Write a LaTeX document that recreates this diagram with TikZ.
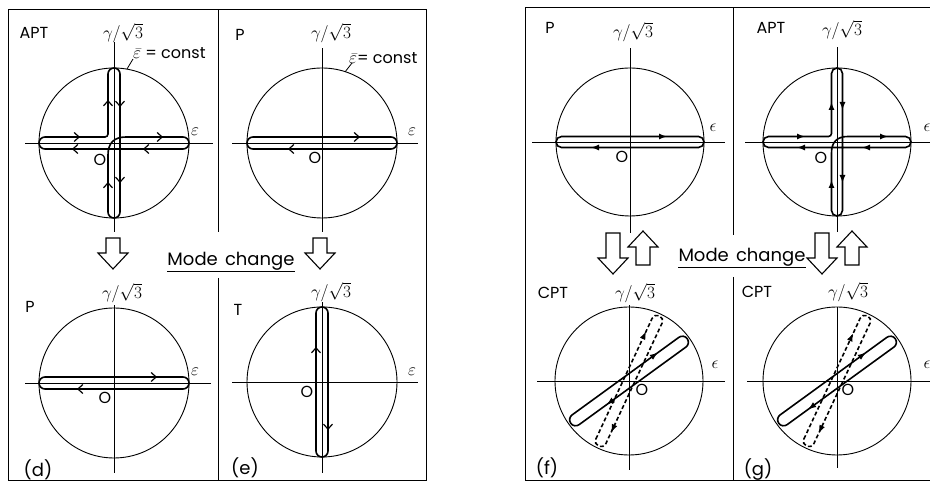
\documentclass[tikz,border=0pt]{standalone}
\usepackage{fontspec}
\setmainfont{Poppins}
\usetikzlibrary{arrows.meta}

\tikzset{
  frame/.style={line width=1pt},
  axis/.style={line width=0.8pt},
  orbit/.style={line width=0.9pt},
  band/.style={line width=1.6pt},
  dashband/.style={band, dash pattern=on 4pt off 2.5pt},
  lbl/.style={font=\fontsize{16}{18}\selectfont, inner sep=0pt},
  tag/.style={font=\fontsize{18}{20}\selectfont, inner sep=0pt},
  modetxt/.style={font=\fontsize{18}{20}\selectfont, inner sep=0pt},
  barb/.style={line width=1.2pt, -{Straight Barb[length=5pt,width=9pt]}},
  tri/.style={line width=1.2pt, -{Latex[length=8pt,width=6pt]}},
  fatarrow/.style={line width=1.1pt, line join=miter},
}

% closed band along the x axis: half length, half width
\newcommand{\hloop}[3][band]{%
  \draw[#1] (-#2+#3,#3) -- (#2-#3,#3) arc[start angle=90,end angle=-90,radius=#3]
    -- (-#2+#3,-#3) arc[start angle=270,end angle=90,radius=#3] -- cycle;}
% cross shaped band of the APT mode: radius, half width
\newcommand{\aptloop}[2]{%
  \draw[band] (-#1+#2,#2) -- (-#2-3,#2) arc[start angle=-90,end angle=0,radius=3]
    -- (-#2,#1-#2) arc[start angle=180,end angle=0,radius=#2]
    -- (#2,-#1+#2) arc[start angle=0,end angle=-180,radius=#2]
    -- (-#2,-2*#2) .. controls (-#2,0) and (0,#2) .. (2*#2,#2)
    -- (#1-#2,#2) arc[start angle=90,end angle=-90,radius=#2]
    -- (-#1+#2,-#2) arc[start angle=270,end angle=90,radius=#2] -- cycle;}
\newcommand{\tipat}[3][barb]{\draw[#1,shift={(#2)},rotate=#3] (-3,0) -- (0,0);}
% hollow arrow: tip, rotation, length
\newcommand{\modearrow}[3]{\draw[fatarrow,shift={(#1)},rotate=#2]
  (0,0) -- (15,16) -- (7,16) -- (7,#3) -- (-7,#3) -- (-7,16) -- (-15,16) -- cycle;}

\begin{document}
\begin{tikzpicture}[x=1pt,y=1pt]
\useasboundingbox (0,0) rectangle (930,484);
% frames
\draw[frame] (8,3) rectangle (426,474);
\draw[frame] (218,474) -- (218,252) (218,206) -- (218,3);
\draw[frame] (945,3) -- (525,3) -- (525,476) -- (945,476);
\draw[frame] (733,476) -- (733,249) (733,207) -- (733,3);

% (d) upper: APT
\begin{scope}[shift={(114,341)}]
  \draw[orbit] (0,0) circle[radius=75];
  \draw[axis] (-89,0) -- (99,0) (0,-89) -- (0,101);
  \aptloop{75}{6}
  \tipat{-34,6}{0} \tipat{-42,-6}{180} \tipat{-6,43}{90} \tipat{6,36}{-90}
  \tipat{49,6}{0} \tipat{29,-6}{180} \tipat{-6,-39}{90} \tipat{6,-40}{-90}
  \node[lbl] (nameA) at (-80,110) {APT};
  \node[lbl] (gamA) at (9,110) {$\gamma/\sqrt{3}$};
  \node[lbl,anchor=west] (constA) at (19,90) {$\bar{\varepsilon}$ = const};
  \draw[axis] (13,74) -- (19,84);
  \node[lbl] (epsA) at (81,11) {$\varepsilon$};
  \node[lbl] (oA) at (-14,-17) {O};
\end{scope}

% (e) upper: P
\begin{scope}[shift={(322,341)}]
  \draw[orbit] (0,0) circle[radius=75];
  \draw[axis] (-90,0) -- (96,0) (0,-89) -- (0,95);
  \hloop{75}{6}
  \tipat{38,6}{0} \tipat{-34,-6}{180}
  \node[lbl] (nameB) at (-82,108) {P};
  \node[lbl] (gamB) at (9,110) {$\gamma/\sqrt{3}$};
  \node[lbl,anchor=west] (constB) at (27,85) {$\bar{\varepsilon}$= const};
  \draw[axis] (23,71) -- (30,80);
  \node[lbl] (epsB) at (90,11) {$\varepsilon$};
  \node[lbl] (oB) at (-7,-15) {O};
\end{scope}

% (d) lower: P
\begin{scope}[shift={(114,101)}]
  \draw[orbit] (0,0) circle[radius=75];
  \draw[axis] (-89,0) -- (97,0) (0,-90) -- (0,78);
  \hloop{75}{6}
  \tipat{43,6}{0} \tipat{-37,-6}{180}
  \node[lbl] (nameD) at (-84,76) {P};
  \node[lbl] (gamD) at (8,90) {$\gamma/\sqrt{3}$};
  \node[lbl] (epsD) at (81,11) {$\varepsilon$};
  \node[lbl] (oD) at (-9,-15) {O};
  \node[tag] (tagD) at (-76,-87) {(d)};
\end{scope}

% (e) lower: T
\begin{scope}[shift={(322,102)}]
  \draw[orbit] (0,0) circle[radius=75];
  \draw[axis] (-90,0) -- (96,0) (0,-91) -- (0,80);
  \begin{scope}[rotate=90] \hloop{75}{6} \end{scope}
  \tipat{-6,35}{90} \tipat{6,-48}{-90}
  \node[lbl] (nameE) at (-84,72) {T};
  \node[lbl] (gamE) at (9,90) {$\gamma/\sqrt{3}$};
  \node[lbl] (epsE) at (90,10) {$\varepsilon$};
  \node[lbl] (oE) at (-15,-10) {O};
  \node[tag] (tagE) at (-77,-86) {(e)};
\end{scope}

% (f) upper: P
\begin{scope}[shift={(630,342)}]
  \draw[orbit] (0,0) circle[radius=74];
  \draw[axis] (-98,0) -- (95,0) (0,-91) -- (0,94);
  \hloop{74}{5.5}
  \tipat[tri]{37,5.5}{0} \tipat[tri]{-39,-5.5}{180}
  \node[lbl] (nameF) at (-80,114) {P};
  \node[lbl] (gamF) at (3,110) {$\gamma/\sqrt{3}$};
  \node[lbl] (epsF) at (83,14) {$\epsilon$};
  \node[lbl] (oF) at (-8,-15) {O};
\end{scope}

% (g) upper: APT
\begin{scope}[shift={(837,342)}]
  \draw[orbit] (0,0) circle[radius=74];
  \draw[axis] (-92,0) -- (110,0) (0,-90) -- (0,95);
  \aptloop{74}{5.5}
  \tipat[tri]{-32,5.5}{0} \tipat[tri]{-40,-5.5}{180} \tipat[tri]{-5.5,40}{90} \tipat[tri]{5.5,32}{-90}
  \tipat[tri]{51,5.5}{0} \tipat[tri]{25,-5.5}{180} \tipat[tri]{-5.5,-38}{90} \tipat[tri]{5.5,-41}{-90}
  \node[lbl] (nameG) at (-66,114) {APT};
  \node[lbl] (gamG) at (5,112) {$\gamma/\sqrt{3}$};
  \node[lbl] (epsG) at (90,14) {$\epsilon$};
  \node[lbl] (oG) at (-16,-16) {O};
\end{scope}

% (f) lower: CPT
\begin{scope}[shift={(629,103)}]
  \draw[orbit] (0,0) circle[radius=74];
  \draw[axis] (-92,0) -- (96,0) (0,-89) -- (0,76);
  \begin{scope}[rotate=36]
    \hloop{72}{6}
    \tipat[tri]{40,6}{0} \tipat[tri]{-32,-6}{180}
  \end{scope}
  \begin{scope}[rotate=65]
    \hloop[dashband]{72}{5.5}
    \tipat[tri]{52,5.5}{0} \tipat[tri]{-54,-5.5}{180}
  \end{scope}
  \node[lbl] (nameH) at (-76,88) {CPT};
  \node[lbl] (gamH) at (6,88) {$\gamma/\sqrt{3}$};
  \node[lbl] (epsH) at (86,16) {$\epsilon$};
  \node[lbl] (oH) at (13,-9) {O};
  \node[tag] (tagH) at (-82,-87) {(f)};
\end{scope}

% (g) lower: CPT
\begin{scope}[shift={(837,103)}]
  \draw[orbit] (0,0) circle[radius=74];
  \draw[axis] (-90,0) -- (110,0) (0,-87) -- (0,74);
  \begin{scope}[rotate=36]
    \hloop{72}{6}
    \tipat[tri]{40,6}{0} \tipat[tri]{-40,-6}{180}
  \end{scope}
  \begin{scope}[rotate=65]
    \hloop[dashband]{72}{5.5}
    \tipat[tri]{50,5.5}{0} \tipat[tri]{-55,-5.5}{180}
  \end{scope}
  \node[lbl] (nameI) at (-80,89) {CPT};
  \node[lbl] (gamI) at (11,89) {$\gamma/\sqrt{3}$};
  \node[lbl] (epsI) at (90,16) {$\epsilon$};
  \node[lbl] (oI) at (11,-9) {O};
  \node[tag] (tagI) at (-79,-89) {(g)};
\end{scope}

% mode change
\node[modetxt,anchor=base] (modeL) at (231,218) {Mode\hspace{0.4em}change};
\draw[frame] ([yshift=-6pt]modeL.base west) -- ([yshift=-6pt]modeL.base east);
\modearrow{113,215}{0}{31}
\modearrow{320,215}{0}{31}
\node[modetxt,anchor=base] (modeR) at (742,222) {Mode\hspace{0.4em}change};
\draw[frame] ([yshift=-6pt]modeR.base west) -- ([yshift=-6pt]modeR.base east);
\modearrow{613,210}{0}{41}
\modearrow{643,253}{180}{34}
\modearrow{822,210}{0}{41}
\modearrow{852,253}{180}{34}
\end{tikzpicture}
\end{document}
